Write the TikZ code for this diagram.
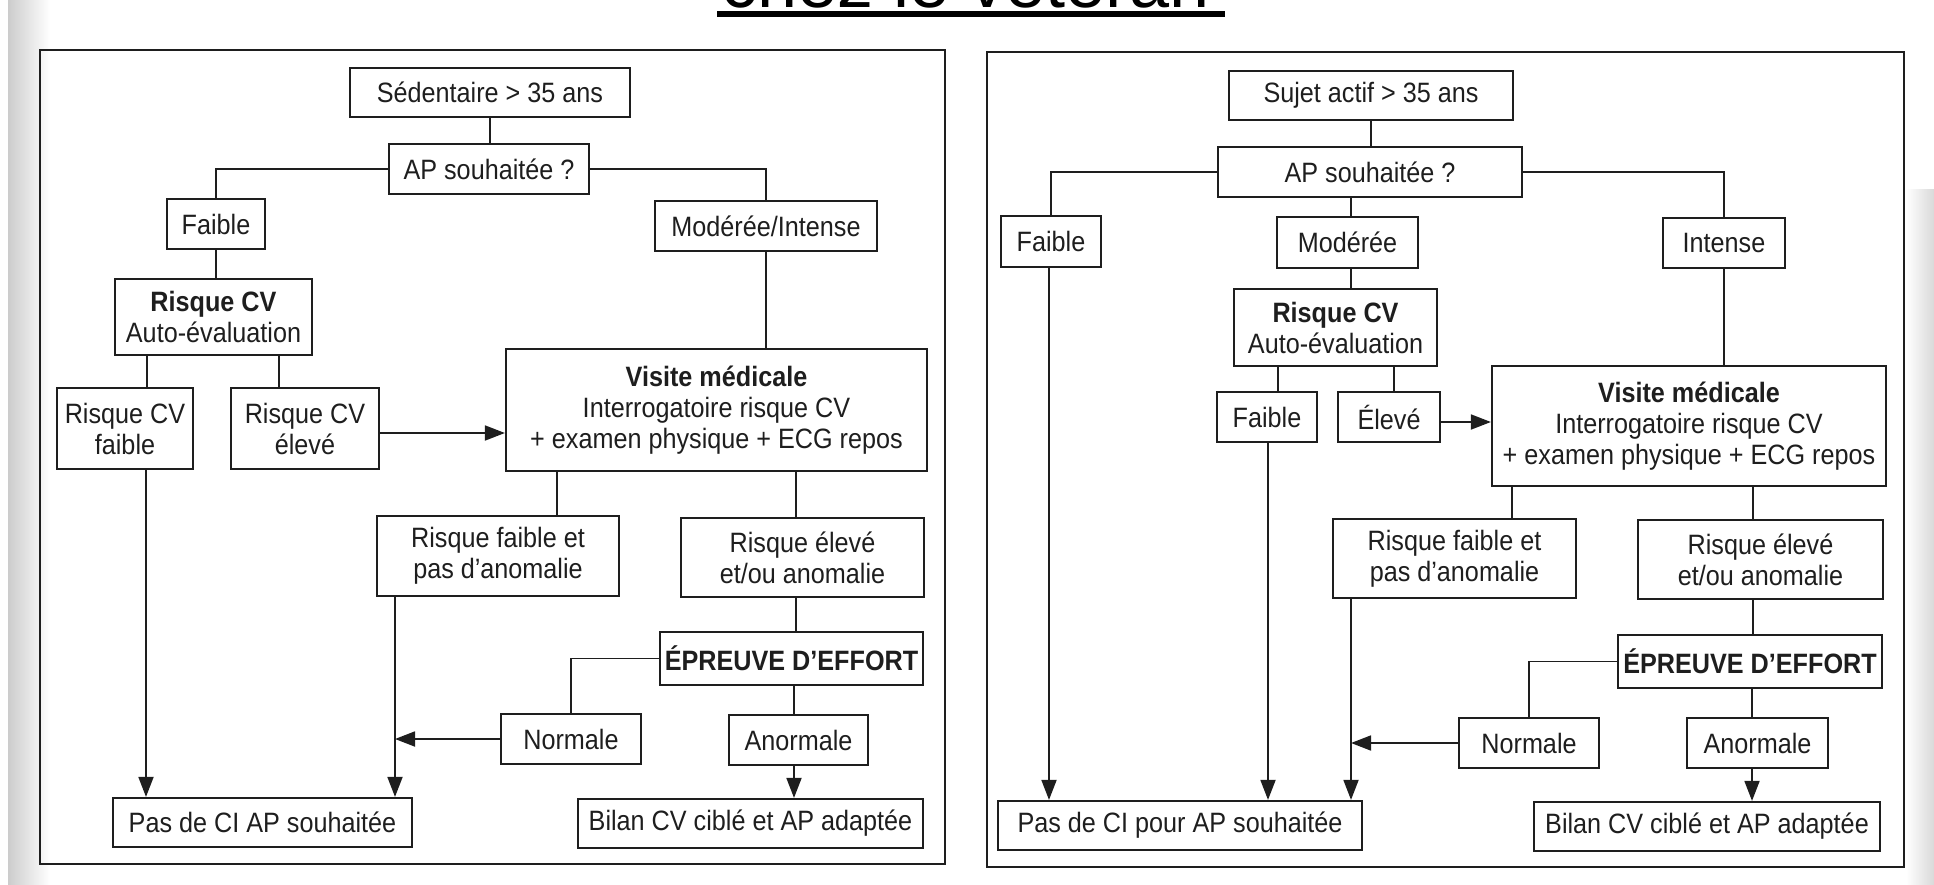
\documentclass[tikz,border=0pt]{standalone}
\usepackage{fontspec}
\setmainfont{Liberation Sans}[FakeStretch=0.9]
\newfontfamily\titlefont{Liberation Sans}
\usetikzlibrary{arrows.meta}
\definecolor{ink}{HTML}{1E1E1E}

\begin{document}
\begin{tikzpicture}[x=1pt,y=-1pt,
		box/.style={draw=ink,line width=2.2pt,text=ink,align=center,inner sep=0pt,font=\fontsize{28}{31}\selectfont},
		link/.style={draw=ink,line width=1.8pt},
		arr/.style={link,-{Triangle[length=20pt,width=15pt]}},
		panel/.style={draw=ink,line width=2pt}]
		
		\useasboundingbox (0,0) rectangle (1934,885);
		\clip (0,0) rectangle (1934,885);
		\shade[left color=gray!40,right color=white] (8,0) rectangle (50,885);
		\shade[left color=white,right color=gray!30] (1906,190) rectangle (1934,885);
		
		\node[font=\titlefont\fontsize{72}{72}\selectfont,anchor=base,inner sep=0pt] (title) at (966,8) {chez le vétéran};
		\fill[black] (717,11) rectangle (1225,17);
		
		\draw[panel] (40,50) rectangle (945,864);
		\draw[panel] (987,52) rectangle (1904,867);
		
		% left panel
		\node[box,minimum width=280pt,minimum height=49pt] (sedL) at (490,92.5) {Sédentaire > 35 ans};
		\node[box,minimum width=200pt,minimum height=50pt] (apL) at (489,169) {AP souhaitée ?};
		\node[box,minimum width=98pt,minimum height=50pt] (faibleL) at (216,224) {Faible};
		\node[box,minimum width=222pt,minimum height=50pt] (modintL) at (766,226) {Modérée/Intense};
		\node[box,minimum width=197pt,minimum height=76pt] (rcvL) at (213.5,317) {\textbf{Risque CV}\\Auto-évaluation};
		\node[box,minimum width=136pt,minimum height=81pt] (rcvfL) at (125,428.5) {Risque CV\\faible};
		\node[box,minimum width=148pt,minimum height=81pt] (rcveL) at (305,428.5) {Risque CV\\élevé};
		\node[box,minimum width=421pt,minimum height=122pt] (visL) at (716.5,410) {\textbf{Visite médicale}\\Interrogatoire risque CV\\+ examen physique + ECG repos};
		\node[box,minimum width=242pt,minimum height=80pt] (rfaL) at (498,556) {Risque faible et\\pas d’anomalie};
		\node[box,minimum width=243pt,minimum height=79pt] (reaL) at (802.5,557.5) {Risque élevé\\et/ou anomalie};
		\node[box,minimum width=263pt,minimum height=53pt] (epL) at (791.5,658.5) {\textbf{ÉPREUVE D’EFFORT}};
		\node[box,minimum width=140pt,minimum height=50pt] (norL) at (571,739) {Normale};
		\node[box,minimum width=139pt,minimum height=50pt] (anoL) at (798.5,740) {Anormale};
		\node[box,minimum width=299pt,minimum height=49pt] (pciL) at (262.5,822.5) {Pas de CI AP souhaitée};
		\node[box,minimum width=345pt,minimum height=49pt] (bilL) at (750.5,823.5) {Bilan CV ciblé et AP adaptée};
		
		\draw[link] (sedL.south) -- (sedL.south |- apL.north);
		\draw[link] (apL.west) -| (faibleL.north);
		\draw[link] (apL.east) -| (modintL.north);
		\draw[link] (faibleL.south) -- (faibleL.south |- rcvL.north);
		\draw[link] (modintL.south) -- (modintL.south |- visL.north);
		\draw[link] (147,0 |- rcvL.south) -- (147,0 |- rcvfL.north);
		\draw[link] (279,0 |- rcvL.south) -- (279,0 |- rcveL.north);
		\draw[arr] (rcveL.east |- 0,433) -- (visL.west |- 0,433);
		\draw[link] (557,0 |- visL.south) -- (557,0 |- rfaL.north);
		\draw[link] (796,0 |- visL.south) -- (796,0 |- reaL.north);
		\draw[link] (796,0 |- reaL.south) -- (796,0 |- epL.north);
		\draw[link] (epL.west) -| (norL.north);
		\draw[link] (794,0 |- epL.south) -- (794,0 |- anoL.north);
		\draw[arr] (norL.west) -- (395,0 |- norL.west);
		\draw[arr] (395,0 |- rfaL.south) -- (395,0 |- pciL.north);
		\draw[arr] (146,0 |- rcvfL.south) -- (146,0 |- pciL.north);
		\draw[arr] (794,0 |- anoL.south) -- (794,0 |- bilL.north);
		
		% right panel
		\node[box,minimum width=284pt,minimum height=49pt] (sedR) at (1371,95.5) {Sujet actif > 35 ans};
		\node[box,minimum width=304pt,minimum height=50pt] (apR) at (1370,172) {AP souhaitée ?};
		\node[box,minimum width=100pt,minimum height=51pt] (faibleR) at (1051,241.5) {Faible};
		\node[box,minimum width=141pt,minimum height=51pt] (modR) at (1347.5,242.5) {Modérée};
		\node[box,minimum width=122pt,minimum height=50pt] (intR) at (1724,243) {Intense};
		\node[box,minimum width=203pt,minimum height=77pt] (rcvR) at (1335.5,327.5) {\textbf{Risque CV}\\Auto-évaluation};
		\node[box,minimum width=394pt,minimum height=120pt] (visR) at (1689,426) {\textbf{Visite médicale}\\Interrogatoire risque CV\\+ examen physique + ECG repos};
		\node[box,minimum width=100pt,minimum height=50pt] (fbR) at (1267,417) {Faible};
		\node[box,minimum width=102pt,minimum height=50pt] (elR) at (1389,417) {Élevé};
		\node[box,minimum width=243pt,minimum height=79pt] (rfaR) at (1454.5,558.5) {Risque faible et\\pas d’anomalie};
		\node[box,minimum width=245pt,minimum height=79pt] (reaR) at (1760.5,559.5) {Risque élevé\\et/ou anomalie};
		\node[box,minimum width=264pt,minimum height=53pt] (epR) at (1750,661.5) {\textbf{ÉPREUVE D’EFFORT}};
		\node[box,minimum width=140pt,minimum height=50pt] (norR) at (1529,743) {Normale};
		\node[box,minimum width=141pt,minimum height=50pt] (anoR) at (1757.5,743) {Anormale};
		\node[box,minimum width=364pt,minimum height=49pt] (pciR) at (1180,825.5) {Pas de CI pour AP souhaitée};
		\node[box,minimum width=346pt,minimum height=49pt] (bilR) at (1707,826.5) {Bilan CV ciblé et AP adaptée};
		
		\draw[link] (sedR.south) -- (sedR.south |- apR.north);
		\draw[link] (apR.west) -| (faibleR.north);
		\draw[link] (apR.east) -| (intR.north);
		\draw[link] (1351,0 |- apR.south) -- (1351,0 |- modR.north);
		\draw[link] (1351,0 |- modR.south) -- (1351,0 |- rcvR.north);
		\draw[link] (intR.south) -- (intR.south |- visR.north);
		\draw[link] (1278,0 |- rcvR.south) -- (1278,0 |- fbR.north);
		\draw[link] (1394,0 |- rcvR.south) -- (1394,0 |- elR.north);
		\draw[arr] (elR.east |- 0,422) -- (visR.west |- 0,422);
		\draw[arr] (1049,0 |- faibleR.south) -- (1049,0 |- pciR.north);
		\draw[arr] (1268,0 |- fbR.south) -- (1268,0 |- pciR.north);
		\draw[link] (1512,0 |- visR.south) -- (1512,0 |- rfaR.north);
		\draw[link] (1753,0 |- visR.south) -- (1753,0 |- reaR.north);
		\draw[link] (1753,0 |- reaR.south) -- (1753,0 |- epR.north);
		\draw[link] (epR.west) -| (norR.north);
		\draw[link] (1752,0 |- epR.south) -- (1752,0 |- anoR.north);
		\draw[arr] (norR.west) -- (1351,0 |- norR.west);
		\draw[arr] (1351,0 |- rfaR.south) -- (1351,0 |- pciR.north);
		\draw[arr] (1752,0 |- anoR.south) -- (1752,0 |- bilR.north);
		
	\end{tikzpicture}
\end{document}
